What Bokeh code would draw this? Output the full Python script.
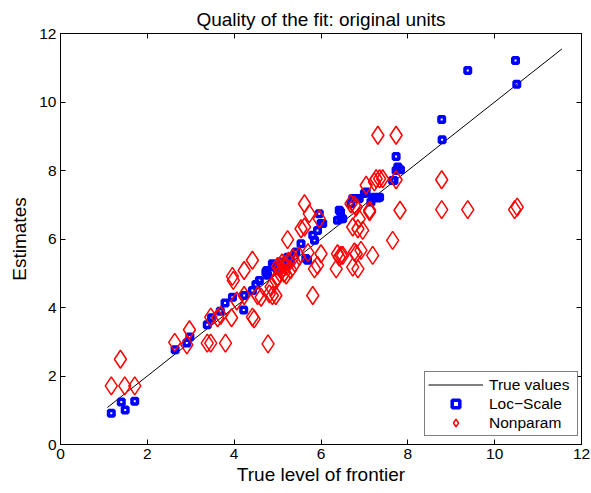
from bokeh.plotting import figure
from bokeh.models import Range1d, LinearAxis, FixedTicker, Legend, LegendItem
from bokeh.embed import file_html
from bokeh.resources import INLINE

# ---- data ----
true_x = [1.08, 11.55]
true_y = [1.08, 11.55]

loc_x = [1.17, 1.40, 1.49, 1.71, 2.64, 2.91, 2.98, 3.38, 3.48, 3.68, 3.79, 3.96, 4.22, 4.23,
         4.42, 4.50, 4.58, 4.73, 4.77, 4.75, 4.88, 4.92, 5.00, 5.08, 5.10, 5.20, 5.23, 5.30,
         5.42, 5.54, 5.65, 5.69, 5.81, 5.85, 5.92, 6.00, 5.96, 6.04, 6.38, 6.42, 6.45, 6.46,
         6.50, 6.69, 6.73, 6.77, 6.85, 6.88, 7.00, 7.04, 7.15, 7.19, 7.23, 7.31, 7.35, 7.65,
         7.68, 7.73, 7.77, 7.83, 7.73, 8.79, 8.78, 9.38, 10.48, 10.51]
loc_y = [0.91, 1.24, 1.01, 1.26, 2.77, 2.96, 3.14, 3.50, 3.70, 3.89, 4.13, 4.30, 3.93, 4.35,
         4.50, 4.67, 4.79, 5.03, 4.94, 5.08, 5.28, 5.18, 5.10, 5.33, 5.20, 5.25, 5.47, 5.40,
         5.62, 5.86, 5.43, 5.38, 6.11, 5.96, 6.25, 6.45, 6.74, 6.45, 6.55, 6.84, 6.79, 6.59,
         6.59, 7.03, 7.18, 7.18, 7.18, 7.18, 7.33, 7.37, 7.08, 7.20, 7.22, 7.20, 7.22, 7.71,
         7.71, 8.00, 8.10, 8.02, 8.41, 8.90, 9.49, 10.92, 11.21, 10.52]

np_x = [1.38, 1.17, 1.48, 1.71, 2.63, 2.91, 2.97, 3.38, 3.46, 3.80, 3.46, 3.62, 3.69, 3.94,
        3.98, 4.06, 4.23, 4.42, 4.46, 4.54, 4.42, 4.23, 3.96, 4.78, 4.62, 4.81, 4.88, 4.96,
        4.85, 4.96, 5.00, 5.05, 5.10, 5.15, 5.20, 5.10, 5.25, 5.00, 5.30, 5.20, 5.35, 5.40,
        5.05, 5.15, 5.23, 5.54, 5.62, 5.62, 5.73, 5.81, 5.85, 5.92, 6.00, 5.96, 5.70, 5.50,
        6.38, 6.42, 6.35, 6.46, 6.50, 6.77, 6.81, 6.92, 6.73, 6.85, 7.19, 6.73, 6.85, 6.96,
        6.88, 7.12, 6.69, 6.81, 6.77, 7.04, 7.23, 7.27, 7.35, 7.42, 7.73, 7.31, 7.73, 7.82,
        7.65, 7.12, 8.78, 8.78, 9.38, 10.46, 10.52]
np_y = [2.49, 1.71, 1.71, 1.71, 2.98, 2.91, 3.35, 2.96, 2.96, 2.96, 3.72, 3.70, 3.77, 3.70,
        4.79, 4.19, 4.35, 3.72, 3.67, 4.35, 5.38, 5.08, 4.91, 2.94, 4.30, 4.40, 4.35, 4.35,
        4.60, 4.79, 4.90, 5.00, 5.10, 5.00, 5.20, 5.30, 5.35, 5.20, 5.10, 4.95, 5.45, 5.30,
        5.15, 5.25, 5.98, 6.30, 6.35, 7.03, 6.74, 4.35, 5.13, 5.23, 5.57, 6.59, 5.60, 5.50,
        5.57, 5.47, 5.13, 5.52, 5.52, 5.62, 5.57, 5.67, 5.18, 5.13, 5.52, 6.35, 6.30, 6.25,
        6.59, 6.79, 7.03, 6.93, 6.98, 7.57, 7.67, 7.76, 7.76, 7.76, 7.73, 9.03, 9.03, 6.84,
        5.96, 6.84, 7.73, 6.86, 6.86, 6.86, 6.93]

x_ticks = [0, 2, 4, 6, 8, 10, 12]
y_ticks = [0, 2, 4, 6, 8, 10, 12]

FONT = "Liberation Sans"

p = figure(width=591, height=493, output_backend="svg", toolbar_location=None,
           x_range=Range1d(0, 12), y_range=Range1d(0, 12),
           title="Quality of the fit: original units",
           min_border_left=60, min_border_right=10, min_border_top=33, min_border_bottom=49,
           x_axis_location=None, y_axis_location=None)
p.grid.visible = False
p.outline_line_color = "black"
p.outline_line_width = 1
p.background_fill_color = "white"
p.border_fill_color = "white"

p.title.align = "center"
p.title.text_font = FONT
p.title.text_font_size = "19px"
p.title.text_font_style = "normal"
p.title.text_color = "black"
p.title.standoff = 7


def make_axis(ticks, label, show_labels):
    ax = LinearAxis(ticker=FixedTicker(ticks=ticks))
    ax.major_tick_in = 5
    ax.major_tick_out = 0
    ax.minor_tick_in = 0
    ax.minor_tick_out = 0
    ax.axis_line_color = "black"
    ax.major_tick_line_color = "black"
    if show_labels:
        ax.major_label_text_font = FONT
        ax.major_label_text_font_size = "15.5px"
        ax.major_label_text_color = "black"
        ax.major_label_standoff = 4
        if label:
            ax.axis_label = label
            ax.axis_label_text_font = FONT
            ax.axis_label_text_font_size = "19px"
            ax.axis_label_text_font_style = "normal"
            ax.axis_label_text_color = "black"
            ax.axis_label_standoff = 2
    else:
        ax.major_label_overrides = {t: "" for t in ticks}
        ax.major_label_text_font_size = "1px"
        ax.major_label_standoff = 0
    return ax


p.add_layout(make_axis(x_ticks, "True level of frontier", True), "below")
yl = make_axis(y_ticks, "Estimates", True)
yl.axis_label_standoff = 6
p.add_layout(yl, "left")
p.add_layout(make_axis(x_ticks, None, False), "above")
p.add_layout(make_axis(y_ticks, None, False), "right")

r_line = p.line(true_x, true_y, line_color="black", line_width=1)
r_loc = p.scatter(loc_x, loc_y, marker="square", size=5.5, fill_color=None,
                  line_color="#0000ff", line_width=3.5)
r_np = p.scatter(np_x, np_y, marker="diamond", size=18, fill_color=None,
                 line_color="#ff0000", line_width=1.5)

legend = Legend(items=[LegendItem(label="True values", renderers=[r_line]),
                       LegendItem(label="Loc\u2212Scale", renderers=[r_loc]),
                       LegendItem(label="Nonparam", renderers=[r_np])],
                location=(364, 8))
legend.border_line_color = "black"
legend.border_line_width = 1
legend.background_fill_color = "white"
legend.background_fill_alpha = 1
legend.label_text_font = FONT
legend.label_text_font_size = "15.5px"
legend.label_text_color = "black"
legend.glyph_width = 55
legend.glyph_height = 19
legend.label_height = 19
legend.label_width = 85
legend.label_standoff = 6
legend.spacing = 0
legend.padding = 3
legend.margin = 0
p.add_layout(legend, "center")

open("out.html", "w").write(file_html(p, INLINE))
